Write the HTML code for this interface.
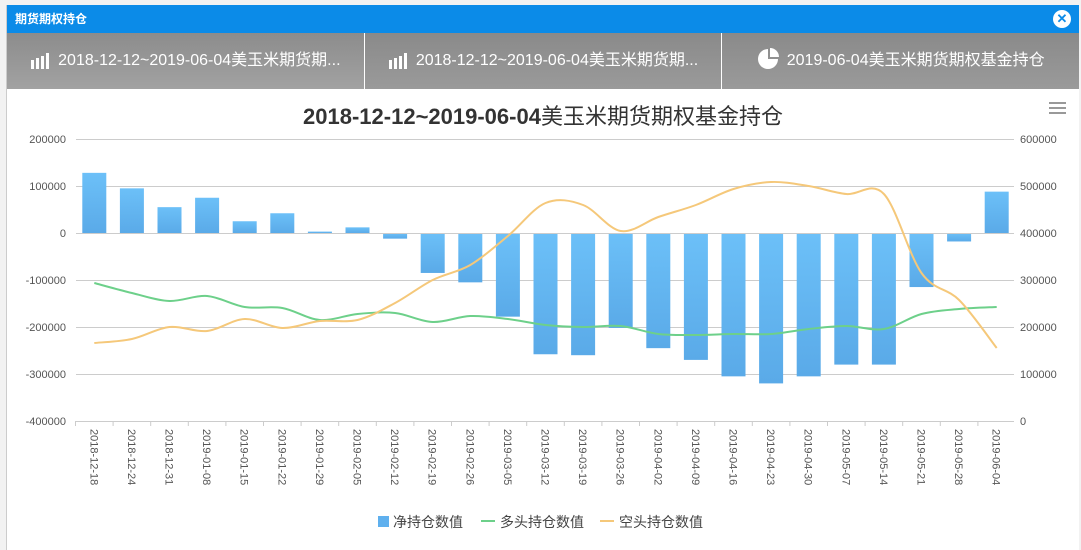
<!DOCTYPE html>
<html><head><meta charset="utf-8"><style>
*{margin:0;padding:0;box-sizing:border-box}
body{width:1081px;height:547px;background:#f2f2f2;font-family:"Liberation Sans","Noto Sans CJK SC",sans-serif;overflow:hidden;position:relative}
#win{position:absolute;left:6px;top:5px;width:1073px;height:545px;background:#fff;border-left:1px solid #ccc}
#hd{height:28px;background:#0b8be8;color:#fff;font-weight:bold;font-size:12px;line-height:28px;padding-left:8px}
#cl{position:absolute;right:8px;top:5px;width:18px;height:18px;border-radius:50%;background:#fff;color:#0b8be8;font-size:13px;font-weight:bold;text-align:center;line-height:18px}
#tabs{height:56px;display:flex}
.tab{flex:1;background:linear-gradient(#8a8a8a,#9a9a9a);color:#fff;font-size:16px;line-height:56px;text-align:center;border-right:1px solid #fff;white-space:nowrap}
.tab:first-child{background:linear-gradient(#8c8c8c,#a2a2a2)}
.tab:last-child{border-right:none}
.tab svg{position:static;vertical-align:-4px;margin-right:8px}
#s{position:absolute;left:0;top:0}
</style></head><body>
<div id="win"><div id="hd">期货期权持仓</div><div id="cl">✕</div>
<div id="tabs"><div class="tab"><svg width="20" height="18"><g fill="#fff"><rect x="1" y="9" width="3" height="9"/><rect x="6" y="7" width="3" height="11"/><rect x="11" y="5" width="3" height="13"/><rect x="16" y="2" width="3" height="16"/></g></svg>2018-12-12~2019-06-04美玉米期货期...</div><div class="tab"><svg width="20" height="18"><g fill="#fff"><rect x="1" y="9" width="3" height="9"/><rect x="6" y="7" width="3" height="11"/><rect x="11" y="5" width="3" height="13"/><rect x="16" y="2" width="3" height="16"/></g></svg>2018-12-12~2019-06-04美玉米期货期...</div><div class="tab"><svg width="22" height="22" style="vertical-align:-5px"><path d="M11,1 A10,10 0 1 0 21,11 L11,11 Z" fill="#fff"/><path d="M13,0 L13,9 L22,9 A9,9 0 0 0 13,0Z" fill="#fff"/></svg>2019-06-04美玉米期货期权基金持仓</div></div></div>
<svg id="s" width="1081" height="547" font-family="Liberation Sans, Noto Sans CJK SC, sans-serif"></svg>
<script>
var s=document.getElementById('s'),h='';
h+='<text x="543" y="124" text-anchor="middle" font-size="22" fill="#333"><tspan font-weight="bold">2018-12-12~2019-06-04</tspan>美玉米期货期权基金持仓</text>';
h+='<g stroke="#999" stroke-width="2"><line x1="1049" y1="103" x2="1066" y2="103"/><line x1="1049" y1="108" x2="1066" y2="108"/><line x1="1049" y1="113" x2="1066" y2="113"/></g>';
var L=["200000","100000","0","-100000","-200000","-300000","-400000"],R=["600000","500000","400000","300000","200000","100000","0"];
for(var i=0;i<7;i++){var y=139+i*47;h+='<line x1="76" x2="1014" y1="'+(y+.5)+'" y2="'+(y+.5)+'" stroke="#ccc"/>';
h+='<text x="66" y="'+(y+4)+'" text-anchor="end" font-size="11" fill="#555">'+L[i]+'</text><text x="1020" y="'+(y+4)+'" font-size="11" fill="#555">'+R[i]+'</text>';}
var d=["2018-12-18","2018-12-24","2018-12-31","2019-01-08","2019-01-15","2019-01-22","2019-01-29","2019-02-05","2019-02-12","2019-02-19","2019-02-26","2019-03-05","2019-03-12","2019-03-19","2019-03-26","2019-04-02","2019-04-09","2019-04-16","2019-04-23","2019-04-30","2019-05-07","2019-05-14","2019-05-21","2019-05-28","2019-06-04"];
var net=[128,95,55,75,25,42,3,12,-12,-85,-105,-178,-258,-260,-202,-245,-270,-305,-320,-305,-280,-280,-115,-18,88];
var G=[283,293,301,296,307,308,320,314,313,322,316,319,325,327,326,334,335,334,334,329,326,329,314,309,307];
var O=[343,339,327,331,319,328,321,320,303,280,265,236,203,205,231,217,205,189,182,186,194,194,273,300,348];
var st=37.6,x0=75.5;
h+='<defs><linearGradient id="g" x1="0" y1="0" x2="0" y2="1"><stop offset="0" stop-color="#6cc0f8"/><stop offset="1" stop-color="#5aaae8"/></linearGradient></defs>';
for(i=0;i<25;i++){var cx=x0+st*(i+.5),v=net[i]*0.47,y0=233;
h+='<rect x="'+(cx-12)+'" y="'+(v>0?y0-v:y0)+'" width="24" height="'+Math.abs(v)+'" fill="url(#g)"/>';
h+='<line x1="'+(x0+st*i)+'" x2="'+(x0+st*i)+'" y1="421" y2="426" stroke="#ccc"/>';
h+='<text transform="translate('+(cx-4)+',429) rotate(90)" font-size="11" fill="#555">'+d[i]+'</text>';}
h+='<line x1="76" x2="1014" y1="233.5" y2="233.5" stroke="#ccc"/>';
function path(Y){var P=Y.map(function(y,i){return[x0+st*(i+.5),y]}),p='M'+P[0];for(var i=0;i<P.length-1;i++){var a=P[i-1]||P[i],b=P[i],c=P[i+1],e=P[i+2]||c;p+=' C'+(b[0]+(c[0]-a[0])/6)+','+(b[1]+(c[1]-a[1])/6)+' '+(c[0]-(e[0]-b[0])/6)+','+(c[1]-(e[1]-b[1])/6)+' '+c;}return p}
h+='<path d="'+path(G)+'" fill="none" stroke="#6dd08a" stroke-width="2"/><path d="'+path(O)+'" fill="none" stroke="#f5c87a" stroke-width="2"/>';
h+='<rect x="378" y="516" width="11" height="11" fill="#5fb0ee"/><text x="393" y="527" font-size="14" fill="#444">净持仓数值</text>';
h+='<line x1="481" x2="495" y1="521" y2="521" stroke="#6dd08a" stroke-width="2"/><text x="500" y="527" font-size="14" fill="#444">多头持仓数值</text>';
h+='<line x1="600" x2="614" y1="521" y2="521" stroke="#f5c87a" stroke-width="2"/><text x="619" y="527" font-size="14" fill="#444">空头持仓数值</text>';
s.innerHTML=h;
</script></body></html>
